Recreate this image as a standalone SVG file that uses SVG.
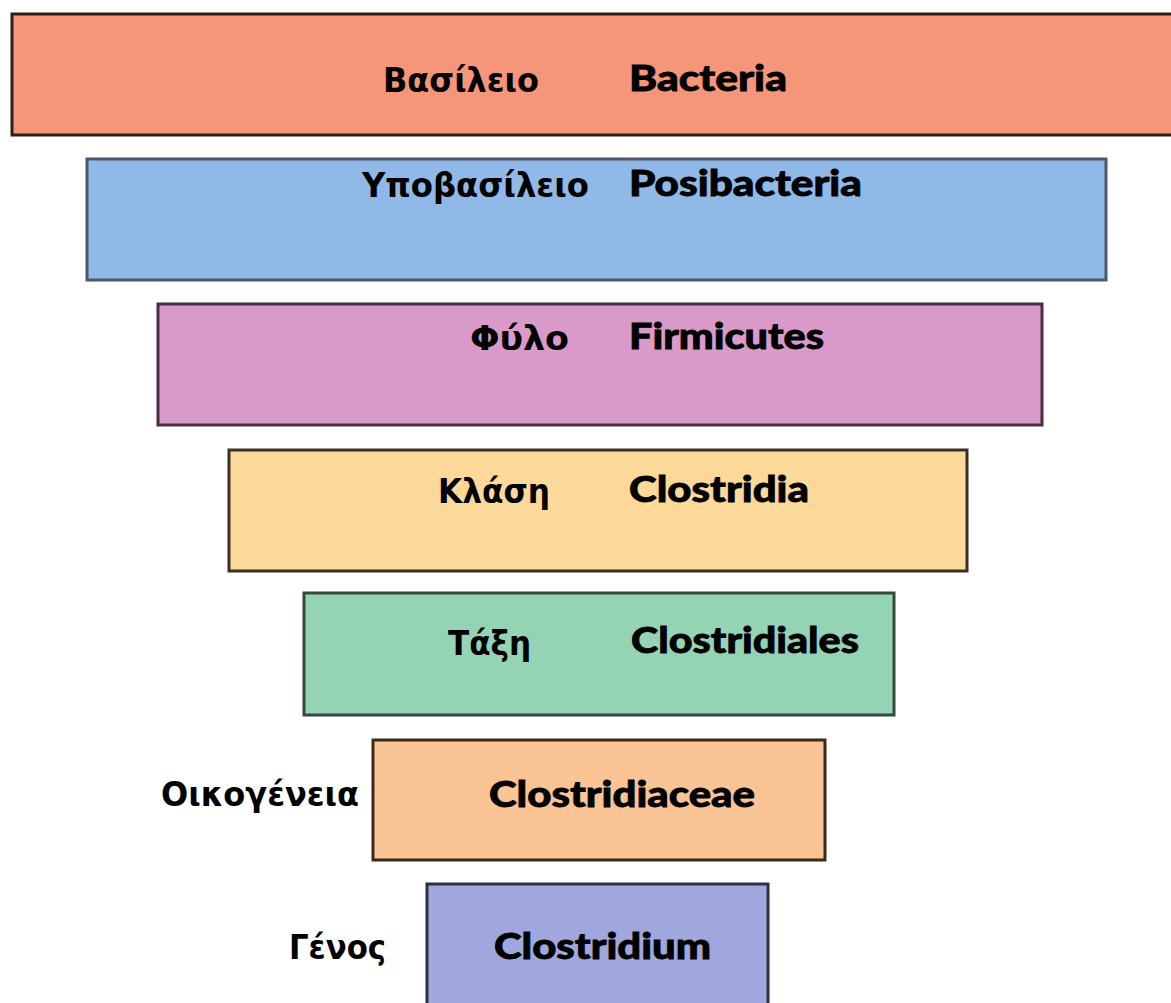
<svg xmlns="http://www.w3.org/2000/svg" width="1171" height="1003" viewBox="0 0 1171 1003">
<style>
.box{stroke-width:3}
.gr{font-family:"DejaVu Sans Condensed","Open Sans",sans-serif;font-weight:700;font-size:33px;fill:#000}
.la{font-family:Lato,"Liberation Sans",sans-serif;font-weight:900;font-size:36px;fill:#000;stroke:#000;stroke-width:0.8}
</style>
<rect width="1171" height="1003" fill="#ffffff"/>
<g id="n1"><rect class="box" x="12" y="14" width="1165" height="121" fill="#f5967a" stroke="#2b1e1a"/>
<text class="gr" x="383" y="92" textLength="156" lengthAdjust="spacingAndGlyphs">Βασίλειο</text>
<text class="la" x="629" y="91" textLength="158" lengthAdjust="spacingAndGlyphs">Bacteria</text></g>
<g id="n2"><rect class="box" x="87" y="159" width="1019" height="121" fill="#90b9e7" stroke="#4b5868"/>
<text class="gr" x="362" y="197" textLength="227" lengthAdjust="spacingAndGlyphs">Υποβασίλειο</text>
<text class="la" x="629" y="196" textLength="233" lengthAdjust="spacingAndGlyphs">Posibacteria</text></g>
<g id="n3"><rect class="box" x="158" y="304" width="884" height="121" fill="#d999c9" stroke="#4a2e40"/>
<text class="gr" x="470" y="350" textLength="99" lengthAdjust="spacingAndGlyphs">Φύλο</text>
<text class="la" x="629" y="349" textLength="195" lengthAdjust="spacingAndGlyphs">Firmicutes</text></g>
<g id="n4"><rect class="box" x="229" y="450" width="738" height="121" fill="#fcd999" stroke="#3a3024"/>
<text class="gr" x="438" y="503" textLength="112" lengthAdjust="spacingAndGlyphs">Κλάση</text>
<text class="la" x="629" y="502" textLength="180" lengthAdjust="spacingAndGlyphs">Clostridia</text></g>
<g id="n5"><rect class="box" x="304" y="593" width="590" height="122" fill="#94d4b4" stroke="#37463e"/>
<text class="gr" x="448" y="655" textLength="83" lengthAdjust="spacingAndGlyphs">Τάξη</text>
<text class="la" x="631" y="653" textLength="228" lengthAdjust="spacingAndGlyphs">Clostridiales</text></g>
<g id="n6"><rect class="box" x="373" y="740" width="452" height="120" fill="#fbc494" stroke="#3a2a1e"/>
<text class="gr" x="161" y="806" textLength="198" lengthAdjust="spacingAndGlyphs">Οικογένεια</text>
<text class="la" x="489" y="807" textLength="266" lengthAdjust="spacingAndGlyphs">Clostridiaceae</text></g>
<g id="n7"><rect class="box" x="427" y="884" width="341" height="125" fill="#a0a7dd" stroke="#2c2e44"/>
<text class="gr" x="289" y="959" textLength="97" lengthAdjust="spacingAndGlyphs">Γένος</text>
<text class="la" x="494" y="959" textLength="217" lengthAdjust="spacingAndGlyphs">Clostridium</text></g>
<g id="connectors"/>
</svg>
